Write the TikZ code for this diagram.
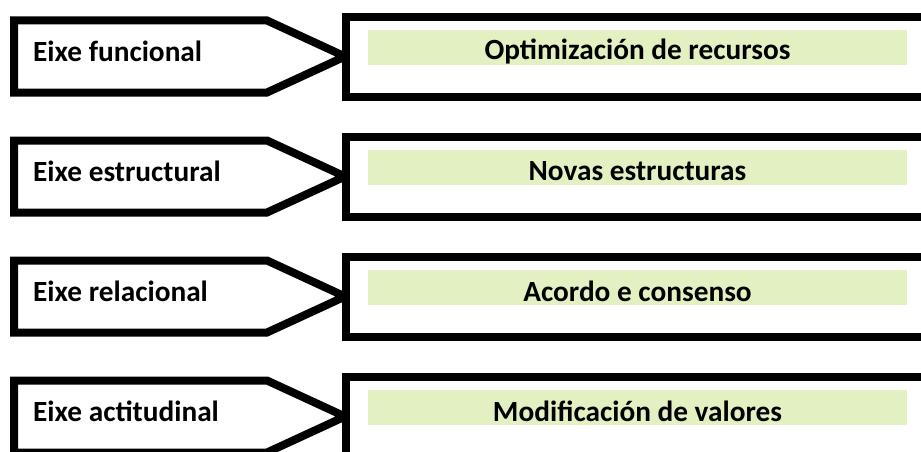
\documentclass[tikz,border=0pt]{standalone}
\usepackage{fontspec}
\setmainfont{Carlito}
\definecolor{paleGreen}{HTML}{E3F0C2}
\begin{document}
\begin{tikzpicture}[x=1pt,y=-1pt,
  shapeline/.style={draw=black,line width=8pt,fill=white},
  lefttext/.style={anchor=west,inner sep=0pt,font=\fontsize{29.3}{34}\selectfont\bfseries},
  greenbar/.style={fill=paleGreen,draw=none},
  righttext/.style={anchor=center,inner sep=0pt,font=\fontsize{29.3}{34}\selectfont\bfseries}]
\useasboundingbox (0,0) rectangle (921,452);
\clip (0,0) rectangle (921,452);
\foreach \i/\l/\r in {0/Eixe funcional/Optimización de recursos,
                      1/Eixe estructural/Novas estructuras,
                      2/Eixe relacional/Acordo e consenso,
                      3/Eixe actitudinal/Modificación de valores}{
  \begin{scope}[yshift={-\i*120pt}]
    \draw[shapeline,line join=miter] (14,20.5) -- (267,20.5) -- (345,56.5) -- (267,92.5) -- (14,92.5) -- cycle;
    \draw[shapeline] (346,17) rectangle (940,96.5);
    \fill[greenbar] (368,30) rectangle (907,65);
    \node[lefttext] (l\i) at (33,51) {\l};
    \node[righttext] (r\i) at (637.5,51.5) {\r};
  \end{scope}
}
\end{tikzpicture}
\end{document}
